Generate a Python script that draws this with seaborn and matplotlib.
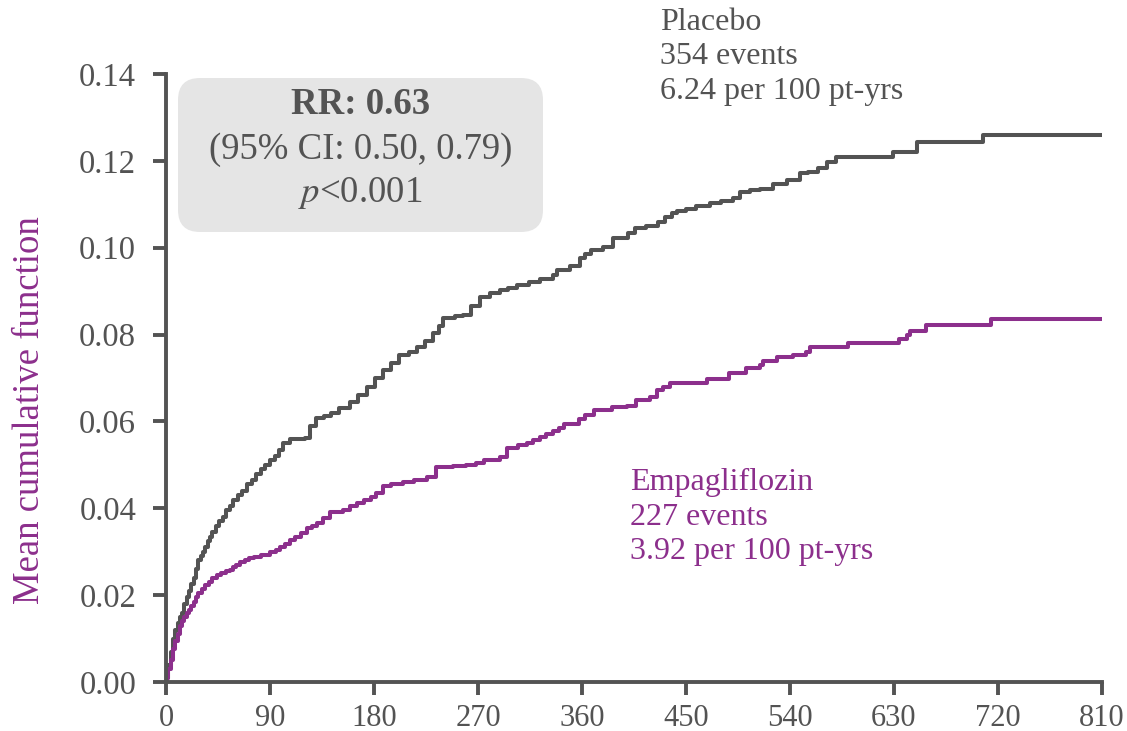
import matplotlib
matplotlib.use("Agg")
import matplotlib.pyplot as plt
import matplotlib.patches as mpatches
from matplotlib.transforms import IdentityTransform
import seaborn as sns
import pandas as pd

# ---- data ----
placebo_t = [0, 1, 2, 4, 6, 8, 10, 12, 14, 16, 18, 20, 22, 24, 26, 28, 30, 32, 34, 36, 38, 40,
             43, 46, 49, 52, 55, 58, 62, 66, 70, 74, 78, 82, 86, 90, 94, 98, 101, 107, 120, 125,
             130, 137, 143, 150, 159, 166, 174, 181, 188, 195, 202, 210, 217, 224, 231, 236, 240,
             250, 257, 264, 272, 280, 289, 296, 304, 314, 324, 335, 338, 350, 358, 363, 368, 378,
             387, 400, 406, 415, 426, 432, 438, 442, 450, 459, 471, 480, 491, 497, 505, 514, 525,
             537, 549, 556, 564, 572, 580, 629, 650, 707, 810]
placebo_y = [0.0, 0.001, 0.004, 0.007, 0.010, 0.012, 0.0135, 0.015, 0.016, 0.018, 0.0195, 0.021,
             0.0225, 0.024, 0.026, 0.028, 0.029, 0.030, 0.031, 0.0325, 0.0335, 0.0345, 0.036,
             0.037, 0.038, 0.0395, 0.0405, 0.042, 0.043, 0.044, 0.0455, 0.0465, 0.048, 0.049,
             0.050, 0.0512, 0.052, 0.0535, 0.055, 0.056, 0.0562, 0.059, 0.0608, 0.0612, 0.0619,
             0.063, 0.0645, 0.066, 0.0679, 0.070, 0.0718, 0.0735, 0.0753, 0.076, 0.0771, 0.0785,
             0.0803, 0.082, 0.0838, 0.0842, 0.0845, 0.0865, 0.0887, 0.0895, 0.0903, 0.0908,
             0.0914, 0.092, 0.0929, 0.0937, 0.0949, 0.0958, 0.0976, 0.0985, 0.0995, 0.1002,
             0.1022, 0.1034, 0.1045, 0.105, 0.106, 0.107, 0.108, 0.1085, 0.109, 0.1095, 0.1104,
             0.1108, 0.1114, 0.1129, 0.1132, 0.1135, 0.1147, 0.1156, 0.1171, 0.1175, 0.1183,
             0.1198, 0.121, 0.1221, 0.1244, 0.126, 0.126]

empa_t = [0, 1, 2, 4, 6, 8, 10, 12, 14, 16, 18, 20, 22, 24, 26, 28, 31, 34, 37, 40, 44, 48, 52,
          55, 58, 61, 64, 68, 72, 76, 82, 90, 95, 99, 103, 107, 112, 117, 122, 126, 131, 136,
          142, 153, 159, 165, 171, 177, 182, 188, 195, 205, 215, 222, 226, 234, 248, 260, 268,
          275, 289, 295, 305, 312, 318, 324, 329, 335, 340, 344, 357, 363, 370, 386, 399, 407,
          419, 425, 430, 436, 468, 487, 502, 514, 517, 529, 543, 554, 557, 590, 634, 641, 644,
          658, 714, 810]
empa_y = [0.0, 0.001, 0.003, 0.005, 0.0075, 0.0095, 0.011, 0.013, 0.014, 0.015, 0.016, 0.0165,
          0.0175, 0.0185, 0.0195, 0.0205, 0.0215, 0.0223, 0.023, 0.024, 0.0246, 0.025, 0.0255,
          0.0258, 0.0265, 0.027, 0.0276, 0.028, 0.0285, 0.0288, 0.0292, 0.0299, 0.0305, 0.0311,
          0.0318, 0.0327, 0.0333, 0.0342, 0.0355, 0.036, 0.0366, 0.0378, 0.0391, 0.0396, 0.0405,
          0.0412, 0.042, 0.0426, 0.0436, 0.0451, 0.0457, 0.0461, 0.0464, 0.0466, 0.0472, 0.0495,
          0.0498, 0.0500, 0.0505, 0.0511, 0.0518, 0.0539, 0.0545, 0.055, 0.0557, 0.0564, 0.057,
          0.0577, 0.0585, 0.0594, 0.0605, 0.0615, 0.0626, 0.0633, 0.0636, 0.065, 0.0657, 0.0672,
          0.068, 0.0688, 0.0697, 0.0711, 0.0722, 0.073, 0.074, 0.0748, 0.0753, 0.076, 0.0772,
          0.0781, 0.0789, 0.0799, 0.0809, 0.0821, 0.0837, 0.0837]

groups = ["Placebo", "Empagliflozin"]
x_ticks = [0, 90, 180, 270, 360, 450, 540, 630, 720, 810]
y_ticks = [0.00, 0.02, 0.04, 0.06, 0.08, 0.10, 0.12, 0.14]
y_label = "Mean cumulative function"
placebo_note = "Placebo\n354 events\n6.24 per 100 pt-yrs"
empa_note = "Empagliflozin\n227 events\n3.92 per 100 pt-yrs"
box_lines = ["RR: 0.63", "(95% CI: 0.50, 0.79)", "$p$<0.001"]

GREY = "#535353"
PURPLE = "#8c2f8c"

df = pd.concat([
    pd.DataFrame({"t": placebo_t, "mcf": placebo_y, "group": groups[0]}),
    pd.DataFrame({"t": empa_t, "mcf": empa_y, "group": groups[1]}),
], ignore_index=True)

sns.set_theme(style="ticks")
plt.rcParams["font.family"] = ["Liberation Serif", "DejaVu Serif"]
plt.rcParams["mathtext.fontset"] = "stix"

W, H = 1127, 731
fig = plt.figure(figsize=(W / 100, H / 100), dpi=100)
ax = fig.add_axes([166 / W, 1 - 682 / H, (1102 - 166) / W, (682 - 74) / H])

sns.lineplot(data=df, x="t", y="mcf", hue="group", palette={groups[0]: GREY, groups[1]: PURPLE},
             estimator=None, drawstyle="steps-post", linewidth=2.9, legend=False, ax=ax)

ax.set_xlim(0, 810)
ax.set_ylim(0, 0.14)
ax.set_xticks(x_ticks)
ax.set_xticklabels([str(v) for v in x_ticks])
ax.set_yticks(y_ticks)
ax.set_yticklabels([f"{v:.2f}" for v in y_ticks])
ax.set_xlabel("")
ax.set_ylabel("")
for s in ["top", "right"]:
    ax.spines[s].set_visible(False)
for s in ["left", "bottom"]:
    ax.spines[s].set_color(GREY)
    ax.spines[s].set_linewidth(2.8)
ax.tick_params(axis="both", colors=GREY, width=2.8, labelcolor=GREY)
ax.tick_params(axis="y", length=9.5, pad=12, labelsize=23.5)
ax.tick_params(axis="x", length=9.5, pad=6, labelsize=22)

fig.text(30 / W, 1 - 410 / H, y_label, rotation=90, ha="center", va="center",
         fontsize=26.5, color=PURPLE)

# RR box
box = mpatches.FancyBboxPatch((178, H - 232), 365, 154,
                              boxstyle="round,pad=0,rounding_size=22",
                              facecolor="#e5e5e5", edgecolor="none",
                              transform=IdentityTransform())
fig.patches.append(box)
cx = 360.5 / W
fig.text(cx, 1 - 104 / H, box_lines[0], ha="center", va="center", fontsize=26.5,
         fontweight="bold", color=GREY)
fig.text(cx, 1 - 150 / H, box_lines[1], ha="center", va="center", fontsize=26.5, color=GREY)
fig.text(cx, 1 - 193 / H, box_lines[2], ha="center", va="center", fontsize=26.5, color=GREY)

fig.text(660 / W, 1 - 57 / H, placebo_note, ha="left", va="center", fontsize=23,
         color=GREY, linespacing=1.25)
fig.text(630 / W, 1 - 517 / H, empa_note, ha="left", va="center", fontsize=23,
         color=PURPLE, linespacing=1.25)

fig.savefig("out.png", dpi=100)
